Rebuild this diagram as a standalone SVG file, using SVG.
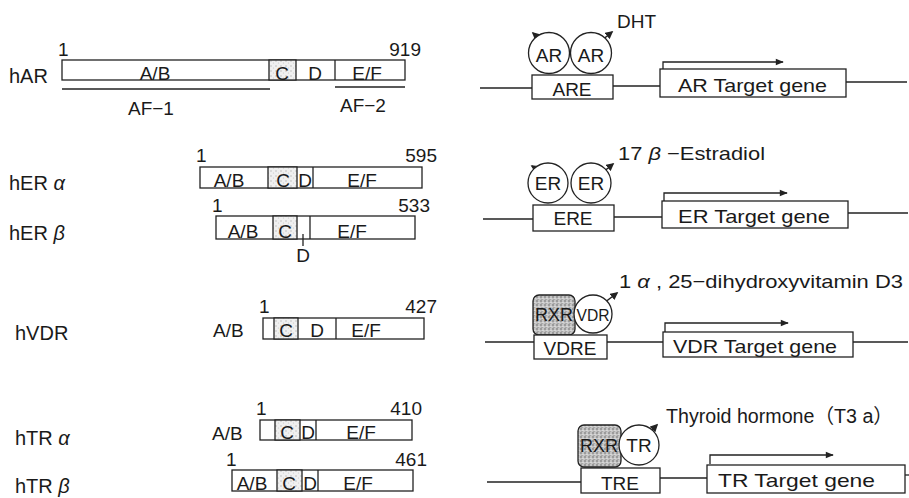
<svg xmlns="http://www.w3.org/2000/svg" width="909" height="498" viewBox="0 0 909 498">
<style>
.t{font-family:"Liberation Sans",Arial,"Noto Sans CJK JP",sans-serif;font-size:19px;fill:#1a1a1a}
.lb{font-size:20px}
.gk{font-style:italic}
.m{text-anchor:middle}
.e{text-anchor:end}
.box{fill:#fff;stroke:#222;stroke-width:1.3}
.cd{fill:url(#light);stroke:#222;stroke-width:1.3}
.rxr{fill:url(#dark);stroke:#222;stroke-width:1.3}
.ln{stroke:#222;stroke-width:1.3;fill:none}
.circ{fill:#fff;stroke:#222;stroke-width:1.3}
.lig{stroke:#222;stroke-width:1.5;fill:none;marker-end:url(#tri)}
.tx{stroke:#222;stroke-width:1.3;fill:none;marker-end:url(#arr)}
</style>
<defs>
<pattern id="light" width="5" height="5" patternUnits="userSpaceOnUse">
<rect width="5" height="5" fill="#f0f0f0"/>
<circle cx="1" cy="1" r="0.7" fill="#b0b0b0"/>
<circle cx="3.5" cy="3" r="0.6" fill="#c8c8c8"/>
</pattern>
<pattern id="dark" width="4" height="4" patternUnits="userSpaceOnUse">
<rect width="4" height="4" fill="#c4c4c4"/>
<circle cx="1" cy="1" r="0.8" fill="#666"/>
<circle cx="3" cy="2.5" r="0.6" fill="#f0f0f0"/>
<circle cx="2" cy="3.6" r="0.5" fill="#7a7a7a"/>
</pattern>
<marker id="tri" viewBox="0 0 10 10" refX="8" refY="5" markerWidth="8" markerHeight="8" orient="auto" markerUnits="userSpaceOnUse">
<path d="M0,0 L10,5 L0,10 z" fill="#222"/>
</marker>
<marker id="arr" viewBox="0 0 10 10" refX="9" refY="5" markerWidth="10" markerHeight="8" orient="auto" markerUnits="userSpaceOnUse">
<path d="M0,1 L10,5 L0,9 z" fill="#222"/>
</marker>
</defs>

<!-- Left: domain structures -->
<g id="hAR">
<text class="t lb" x="9" y="83">hAR</text>
<rect class="box" x="62" y="60" width="343" height="20"/>
<rect class="cd" x="269" y="60" width="27" height="20"/>
<line class="ln" x1="335" y1="60" x2="335" y2="80"/>
<text class="t m" x="155" y="80">A/B</text>
<text class="t m" x="282" y="80">C</text>
<text class="t m" x="315" y="80">D</text>
<text class="t m" x="367" y="80">E/F</text>
<text class="t" x="58" y="56">1</text>
<text class="t e" x="421" y="56">919</text>
<line class="ln" x1="62" y1="89" x2="270" y2="89"/>
<text class="t" x="128" y="115">AF−1</text>
<line class="ln" x1="335" y1="87" x2="405" y2="87"/>
<text class="t" x="340" y="112">AF−2</text>
</g>

<g id="hERa">
<text class="t lb" x="9" y="190">hER <tspan class="gk">α</tspan></text>
<rect class="box" x="200" y="167" width="222" height="21"/>
<rect class="cd" x="268" y="167" width="29" height="21"/>
<line class="ln" x1="313" y1="167" x2="313" y2="188"/>
<text class="t m" x="229" y="187">A/B</text>
<text class="t m" x="283" y="187">C</text>
<text class="t m" x="305" y="187">D</text>
<text class="t m" x="362" y="187">E/F</text>
<text class="t" x="196" y="162">1</text>
<text class="t e" x="437" y="162">595</text>
</g>

<g id="hERb">
<text class="t lb" x="9" y="240">hER <tspan class="gk">β</tspan></text>
<rect class="box" x="216" y="216" width="199" height="23"/>
<rect class="cd" x="273" y="216" width="24" height="23"/>
<line class="ln" x1="310" y1="216" x2="310" y2="239"/>
<text class="t m" x="243" y="238">A/B</text>
<text class="t m" x="285" y="238">C</text>
<text class="t m" x="352" y="238">E/F</text>
<line class="ln" x1="303" y1="234" x2="303" y2="246"/>
<text class="t m" x="303" y="262">D</text>
<text class="t" x="212" y="212">1</text>
<text class="t e" x="430" y="212">533</text>
</g>

<g id="hVDR">
<text class="t lb" x="15" y="340">hVDR</text>
<text class="t" x="213" y="337">A/B</text>
<rect class="box" x="263" y="318" width="161" height="21"/>
<rect class="cd" x="274" y="318" width="24" height="21"/>
<line class="ln" x1="336" y1="318" x2="336" y2="339"/>
<text class="t m" x="286" y="337">C</text>
<text class="t m" x="317" y="337">D</text>
<text class="t m" x="366" y="337">E/F</text>
<text class="t" x="259" y="313">1</text>
<text class="t e" x="437" y="313">427</text>
</g>

<g id="hTRa">
<text class="t lb" x="15" y="445">hTR <tspan class="gk">α</tspan></text>
<text class="t" x="212" y="440">A/B</text>
<rect class="box" x="260" y="420" width="152" height="20"/>
<rect class="cd" x="275" y="420" width="25" height="20"/>
<line class="ln" x1="316" y1="420" x2="316" y2="440"/>
<text class="t m" x="287" y="439">C</text>
<text class="t m" x="308" y="439">D</text>
<text class="t m" x="361" y="439">E/F</text>
<text class="t" x="256" y="415">1</text>
<text class="t e" x="422" y="415">410</text>
</g>

<g id="hTRb">
<text class="t lb" x="15" y="493">hTR <tspan class="gk">β</tspan></text>
<rect class="box" x="232" y="470" width="181" height="21"/>
<rect class="cd" x="277" y="470" width="25" height="21"/>
<line class="ln" x1="318" y1="470" x2="318" y2="491"/>
<text class="t m" x="252" y="490">A/B</text>
<text class="t m" x="289" y="490">C</text>
<text class="t m" x="310" y="490">D</text>
<text class="t m" x="358" y="490">E/F</text>
<text class="t" x="226" y="466">1</text>
<text class="t e" x="427" y="466">461</text>
</g>

<!-- Right: gene activation schematics -->
<g id="connectors">
<line class="ln" x1="480" y1="88" x2="532" y2="88"/>
<line class="ln" x1="613" y1="86" x2="660" y2="86"/>
<line class="ln" x1="846" y1="82" x2="907" y2="82"/>
<polyline class="tx" points="663,70 663,62 783,62"/>
<line class="lig" x1="542" y1="41" x2="533" y2="33"/>
<line class="lig" x1="601" y1="41" x2="612" y2="32"/>

<line class="ln" x1="483" y1="219" x2="533" y2="219"/>
<line class="ln" x1="614" y1="217" x2="662" y2="217"/>
<line class="ln" x1="848" y1="213" x2="908" y2="213"/>
<polyline class="tx" points="664,201 664,193 787,193"/>
<line class="lig" x1="543" y1="173" x2="532" y2="166"/>
<line class="lig" x1="602" y1="173" x2="613" y2="164"/>

<line class="ln" x1="485" y1="342" x2="534" y2="342"/>
<line class="ln" x1="607" y1="342" x2="663" y2="342"/>
<line class="ln" x1="853" y1="342" x2="908" y2="342"/>
<polyline class="tx" points="665,332 665,323 788,323"/>
<line class="lig" x1="604" y1="303" x2="617" y2="293"/>

<line class="ln" x1="487" y1="482" x2="581" y2="482"/>
<line class="ln" x1="660" y1="478" x2="707" y2="478"/>
<line class="ln" x1="905" y1="475" x2="909" y2="475"/>
<polyline class="tx" points="710,464 710,455 833,455"/>
<line class="lig" x1="646" y1="436" x2="657" y2="425"/>
</g>

<g id="AR-row">
<circle class="circ" cx="549" cy="53" r="20.5"/>
<circle class="circ" cx="591" cy="53" r="20.5"/>
<text class="t m" x="549" y="62">AR</text>
<text class="t m" x="591" y="62">AR</text>
<text class="t" x="617" y="28">DHT</text>
<rect class="box" x="532" y="75" width="81" height="24"/>
<text class="t m" x="572" y="96">ARE</text>
<rect class="box" x="660" y="69" width="186" height="28"/>
<text class="t" x="678" y="92" textLength="149" lengthAdjust="spacingAndGlyphs">AR Target gene</text>
</g>

<g id="ER-row">
<circle class="circ" cx="548" cy="183" r="20"/>
<circle class="circ" cx="591" cy="183" r="20"/>
<text class="t m" x="548" y="190">ER</text>
<text class="t m" x="591" y="190">ER</text>
<text class="t" x="618" y="160" textLength="147" lengthAdjust="spacingAndGlyphs">17 <tspan class="gk">β</tspan> −Estradiol</text>
<rect class="box" x="533" y="205" width="81" height="26"/>
<text class="t m" x="573" y="225">ERE</text>
<rect class="box" x="662" y="201" width="186" height="27"/>
<text class="t" x="678" y="223" textLength="152" lengthAdjust="spacingAndGlyphs">ER Target gene</text>
</g>

<g id="VDR-row">
<rect class="rxr" x="533" y="295" width="42" height="40" rx="6"/>
<text class="t m" x="554" y="321" textLength="38" lengthAdjust="spacingAndGlyphs">RXR</text>
<circle class="circ" cx="593" cy="314" r="19"/>
<text class="t m" x="593" y="321" style="font-size:17px" textLength="33" lengthAdjust="spacingAndGlyphs">VDR</text>
<text class="t" x="619" y="288" textLength="284" lengthAdjust="spacingAndGlyphs">1 <tspan class="gk">α</tspan> , 25−dihydroxyvitamin D3</text>
<rect class="box" x="534" y="335" width="73" height="24"/>
<text class="t m" x="570" y="355">VDRE</text>
<rect class="box" x="663" y="332" width="190" height="25"/>
<text class="t" x="673" y="353" textLength="164" lengthAdjust="spacingAndGlyphs">VDR Target gene</text>
</g>

<g id="TR-row">
<rect class="rxr" x="578" y="425" width="43" height="42" rx="6"/>
<text class="t m" x="599" y="452" textLength="38" lengthAdjust="spacingAndGlyphs">RXR</text>
<circle class="circ" cx="639" cy="445" r="20"/>
<text class="t m" x="639" y="452">TR</text>
<text class="t" x="666" y="423" style="font-size:20px" textLength="227" lengthAdjust="spacingAndGlyphs">Thyroid hormone（T3 a）</text>
<rect class="box" x="581" y="468" width="79" height="25"/>
<text class="t m" x="620" y="490">TRE</text>
<rect class="box" x="707" y="465" width="198" height="28"/>
<text class="t" x="718" y="487" textLength="157" lengthAdjust="spacingAndGlyphs">TR Target gene</text>
</g>
</svg>
